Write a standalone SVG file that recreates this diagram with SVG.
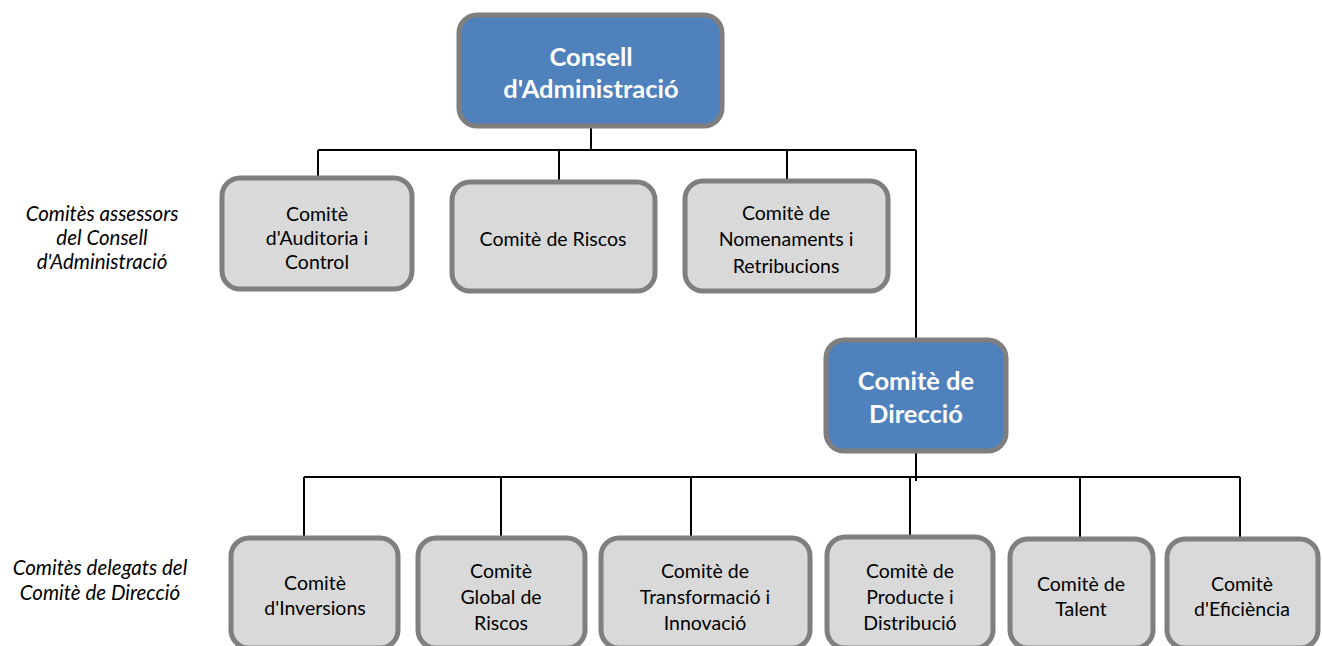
<svg xmlns="http://www.w3.org/2000/svg" width="1322" height="646" viewBox="0 0 1322 646">
<style>
.blue{fill:#4F81BD;stroke:#7F7F7F;stroke-width:5}
.gray{fill:#D9D9D9;stroke:#7F7F7F;stroke-width:5}
.bt{font-family:Lato,"Liberation Sans",sans-serif;font-weight:bold;font-size:25.5px;fill:#fff;text-anchor:middle;dominant-baseline:central}
.t{font-family:Lato,"Liberation Sans",sans-serif;font-size:19.5px;fill:#000;text-anchor:middle;dominant-baseline:central}
.it{font-family:Lato,"Liberation Sans",sans-serif;font-style:italic;font-size:20.5px;fill:#000;text-anchor:middle;dominant-baseline:central}
.c{fill:none;stroke:#000;stroke-width:2}
</style>
<rect width="1322" height="646" fill="#fff"/>
<g id="connectors">
<path class="c" d="M591 128V150M318 150H916M318 150V177M559 150V180M787 150V179M916 150V338"/>
<path class="c" d="M916 453V481M304 477H1240M304 477V537M501 477V537M691 477V537M910 477V537M1080 477V537M1240 477V537"/>
</g>
<g id="labels">
<text class="it" x="102" y="213">Comitès assessors</text>
<text class="it" x="102" y="237">del Consell</text>
<text class="it" x="102" y="261">d'Administració</text>
<text class="it" x="100" y="567">Comitès delegats del</text>
<text class="it" x="100" y="592">Comitè de Direcció</text>
</g>
<g id="n-consell">
<rect class="blue" x="459" y="15" width="263" height="111" rx="18"/>
<text class="bt" x="591" y="56">Consell</text>
<text class="bt" x="591" y="88">d'Administració</text>
</g>
<g id="n-auditoria">
<rect class="gray" x="222" y="178" width="190" height="111" rx="18"/>
<text class="t" x="317" y="213">Comitè</text>
<text class="t" x="317" y="237">d'Auditoria i</text>
<text class="t" x="317" y="261">Control</text>
</g>
<g id="n-riscos">
<rect class="gray" x="452" y="182" width="203" height="109" rx="18"/>
<text class="t" x="553" y="238">Comitè de Riscos</text>
</g>
<g id="n-nomenaments">
<rect class="gray" x="685" y="181" width="203" height="110" rx="18"/>
<text class="t" x="786" y="212">Comitè de</text>
<text class="t" x="786" y="238">Nomenaments i</text>
<text class="t" x="786" y="265">Retribucions</text>
</g>
<g id="n-direccio">
<rect class="blue" x="826" y="340" width="180" height="111" rx="18"/>
<text class="bt" x="916" y="380">Comitè de</text>
<text class="bt" x="916" y="413">Direcció</text>
</g>
<g id="n-inversions">
<rect class="gray" x="231" y="538" width="167" height="110" rx="18"/>
<text class="t" x="315" y="582">Comitè</text>
<text class="t" x="315" y="607">d'Inversions</text>
</g>
<g id="n-global">
<rect class="gray" x="418" y="538" width="167" height="110" rx="18"/>
<text class="t" x="501" y="570">Comitè</text>
<text class="t" x="501" y="596">Global de</text>
<text class="t" x="501" y="622">Riscos</text>
</g>
<g id="n-transformacio">
<rect class="gray" x="601" y="538" width="209" height="110" rx="18"/>
<text class="t" x="705" y="570">Comitè de</text>
<text class="t" x="705" y="596">Transformació i</text>
<text class="t" x="705" y="622">Innovació</text>
</g>
<g id="n-producte">
<rect class="gray" x="827" y="537" width="166" height="111" rx="18"/>
<text class="t" x="910" y="570">Comitè de</text>
<text class="t" x="910" y="596">Producte i</text>
<text class="t" x="910" y="622">Distribució</text>
</g>
<g id="n-talent">
<rect class="gray" x="1010" y="539" width="143" height="109" rx="18"/>
<text class="t" x="1081" y="583">Comitè de</text>
<text class="t" x="1081" y="608">Talent</text>
</g>
<g id="n-eficiencia">
<rect class="gray" x="1167" y="539" width="151" height="109" rx="18"/>
<text class="t" x="1242" y="583">Comitè</text>
<text class="t" x="1242" y="608">d'Eficiència</text>
</g>
</svg>
